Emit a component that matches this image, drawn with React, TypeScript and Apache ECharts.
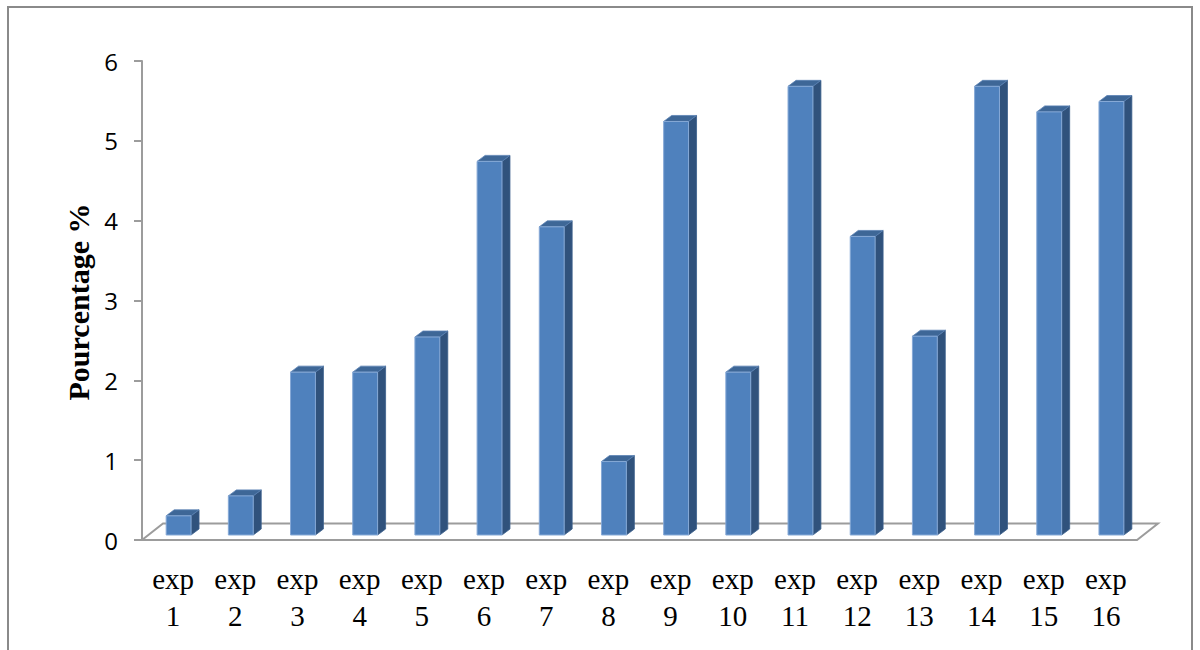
import React, { useEffect, useRef } from "react";
import * as echarts from "echarts";

// Experiments on the category axis
const categories: string[] = [
  "exp\n1", "exp\n2", "exp\n3", "exp\n4", "exp\n5", "exp\n6", "exp\n7", "exp\n8",
  "exp\n9", "exp\n10", "exp\n11", "exp\n12", "exp\n13", "exp\n14", "exp\n15", "exp\n16",
];

// Percentage for each experiment
const percentages: number[] = [
  0.24, 0.49, 2.04, 2.04, 2.48, 4.68, 3.86, 0.92,
  5.18, 2.04, 5.62, 3.74, 2.49, 5.62, 5.3, 5.43,
];

// Value axis ticks
const yMin = 0;
const yMax = 6;
const yStep = 1;

const axisTitle = "Pourcentage %";

// Pseudo-3D geometry (pixels)
const FLOOR_DX = 21;
const FLOOR_DY = 16.5;
const BAR_SHIFT_X = 5.5;
const BAR_SHIFT_Y = 5;
const BAR_DEPTH_X = 8;
const BAR_DEPTH_Y = 6;

const FRONT = "#4f81bd";
const SIDE = "#30527c";
const TOP = "#3e6797";
const GRAY = "#9c9c9c";

export default function App() {
  const ref = useRef<HTMLDivElement>(null);

  useEffect(() => {
    if (!ref.current) return;
    const chart = echarts.init(ref.current, undefined, { renderer: "svg" });

    const floorItem = (params: any) => {
      const cs = params.coordSys;
      const x0 = cs.x;
      const x1 = cs.x + cs.width;
      const y0 = cs.y + cs.height;
      return {
        type: "polygon",
        silent: true,
        shape: {
          points: [
            [x0, y0],
            [x1, y0],
            [x1 + FLOOR_DX, y0 - FLOOR_DY],
            [x0 + FLOOR_DX, y0 - FLOOR_DY],
          ],
        },
        style: { fill: "none", stroke: GRAY, lineWidth: 2 },
      };
    };

    const barItem = (params: any, api: any) => {
      const idx = api.value(0);
      const val = api.value(1);
      const top = api.coord([idx, val]);
      const base = api.coord([idx, 0]);
      const band = api.size([1, 0])[0];
      const w = band * 0.4;
      const cx = top[0] + BAR_SHIFT_X;
      const xl = cx - w / 2;
      const xr = cx + w / 2;
      const yt = top[1] - BAR_SHIFT_Y;
      const yb = base[1] - BAR_SHIFT_Y;
      return {
        type: "group",
        children: [
          {
            type: "polygon",
            shape: {
              points: [
                [xr, yt],
                [xr + BAR_DEPTH_X, yt - BAR_DEPTH_Y],
                [xr + BAR_DEPTH_X, yb - BAR_DEPTH_Y],
                [xr, yb],
              ],
            },
            style: { fill: SIDE, stroke: "#3b5f8c", lineWidth: 0.8 },
          },
          {
            type: "polygon",
            shape: {
              points: [
                [xl, yt],
                [xl + BAR_DEPTH_X, yt - BAR_DEPTH_Y],
                [xr + BAR_DEPTH_X, yt - BAR_DEPTH_Y],
                [xr, yt],
              ],
            },
            style: { fill: TOP, stroke: "#5a82b4", lineWidth: 0.8 },
          },
          {
            type: "rect",
            shape: { x: xl, y: yt, width: w, height: yb - yt },
            style: { fill: FRONT, stroke: "#86a9d6", lineWidth: 1 },
          },
        ],
      };
    };

    chart.setOption({
      animation: false,
      backgroundColor: "#ffffff",
      grid: { left: 142, top: 61, width: 995, height: 479, containLabel: false },
      xAxis: {
        type: "category",
        data: categories,
        boundaryGap: true,
        axisLine: { show: false },
        axisTick: { show: false },
        axisLabel: {
          interval: 0,
          margin: 20,
          color: "#000",
          fontFamily: "Liberation Serif",
          fontSize: 29,
          lineHeight: 37,
        },
        splitLine: { show: false },
      },
      yAxis: {
        type: "value",
        min: yMin,
        max: yMax,
        interval: yStep,
        axisLine: { show: true, lineStyle: { color: GRAY, width: 2 } },
        axisTick: { show: true, length: 8, lineStyle: { color: GRAY, width: 2 } },
        axisLabel: {
          margin: 24,
          color: "#000",
          fontFamily: "Open Sans",
          fontSize: 24,
        },
        splitLine: { show: false },
      },
      graphic: [
        {
          type: "rect",
          silent: true,
          shape: { x: 8, y: 7, width: 1184, height: 700 },
          style: { fill: "none", stroke: "#8a8a8a", lineWidth: 2 },
        },
        {
          type: "text",
          x: 78,
          y: 302,
          rotation: Math.PI / 2,
          style: {
            text: axisTitle,
            fill: "#000",
            font: "bold 30px 'Liberation Serif'",
            align: "center",
            verticalAlign: "middle",
          },
        },
      ],
      series: [
        {
          type: "custom",
          name: "floor",
          silent: true,
          renderItem: floorItem,
          data: [[0, 0]],
          encode: { x: 0, y: 1 },
        },
        {
          type: "custom",
          name: "Pourcentage",
          renderItem: barItem,
          data: percentages.map((v, i) => [i, v]),
          encode: { x: 0, y: 1 },
        },
      ],
    });

    return () => chart.dispose();
  }, []);

  return (
    <div
      ref={ref}
      style={{ position: "fixed", left: 0, top: 0, width: 1200, height: 650 }}
    />
  );
}
